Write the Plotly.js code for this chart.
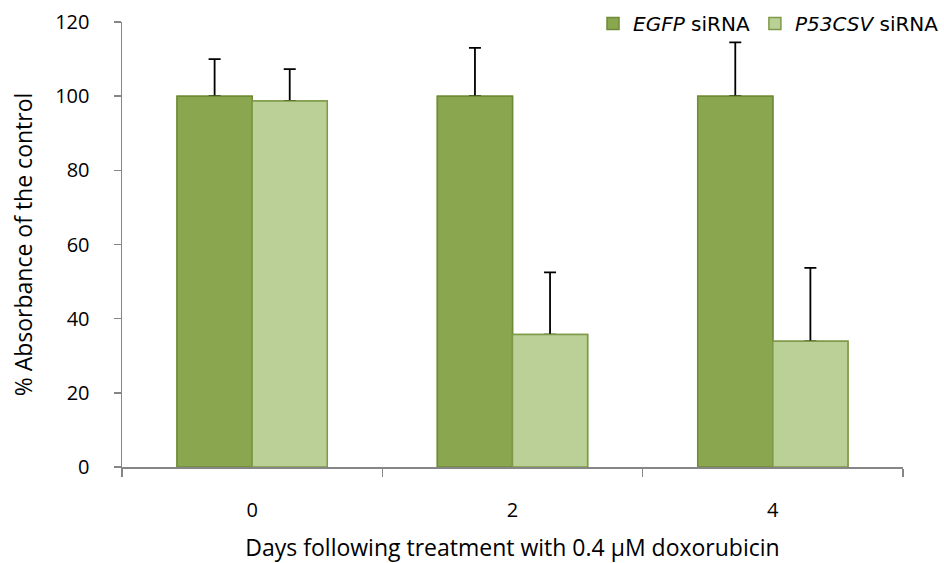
<!DOCTYPE html>
<html>
<head>
<meta charset="utf-8">
<script src="https://cdn.plot.ly/plotly-3.0.1.min.js"></script>
<style>html,body{margin:0;padding:0;background:#fff;}#chart{width:944px;height:563px;}</style>
</head>
<body>
<div id="chart"></div>
<script>
const days = ['0', '2', '4'];
const egfpValues = [100, 100, 100];
const egfpErrors = [10, 13, 14.5];
const p53Values = [98.7, 35.7, 33.9];
const p53Errors = [8.6, 16.8, 19.8];
const seriesNames = ['<i>EGFP</i> siRNA', '<i>P53CSV</i> siRNA'];
const yTicks = [0, 20, 40, 60, 80, 100, 120];

const egfpStyle = {color: '#8aa64f', line: {color: '#6e8c38', width: 1.5}};
const p53Style = {color: '#bad097', line: {color: '#7e9a48', width: 1.5}};

const errStyle = (arr) => ({type: 'data', array: arr, symmetric: false, arrayminus: arr.map(() => 0),
                            color: '#000', thickness: 1.8, width: 6});

const traces = [
  {type: 'bar', x: days, y: egfpValues, name: seriesNames[0], offsetgroup: 'a',
   error_y: errStyle(egfpErrors), marker: egfpStyle},
  {type: 'bar', x: days, y: p53Values, name: seriesNames[1], offsetgroup: 'b',
   error_y: errStyle(p53Errors), marker: p53Style},
  // same bars drawn again on top, so the error bar's base cap at the bar top is hidden
  {type: 'bar', x: days, y: egfpValues, name: seriesNames[0], offsetgroup: 'a',
   showlegend: false, hoverinfo: 'skip', marker: egfpStyle},
  {type: 'bar', x: days, y: p53Values, name: seriesNames[1], offsetgroup: 'b',
   showlegend: false, hoverinfo: 'skip', marker: p53Style}
];

const layout = {
  width: 944, height: 563,
  margin: {l: 122, r: 41, t: 22, b: 96, autoexpand: false},
  paper_bgcolor: '#fff', plot_bgcolor: '#fff',
  font: {family: 'Open Sans, sans-serif', size: 20, color: '#000'},
  barmode: 'group', bargap: 0.423, bargroupgap: 0,
  showlegend: true,
  legend: {orientation: 'h', xref: 'container', yref: 'container', x: 1, xanchor: 'right', y: 0.993, yanchor: 'top',
           font: {family: 'DejaVu Sans, sans-serif', size: 20}, traceorder: 'normal', itemwidth: 30,
           bgcolor: 'rgba(0,0,0,0)'},
  xaxis: {type: 'category', showline: true, linecolor: '#868686', linewidth: 1.5,
          ticks: 'outside', tickson: 'boundaries', ticklen: 8, tickcolor: '#868686', tickwidth: 1.5,
          ticklabelstandoff: 24, tickfont: {size: 20},
          title: {text: 'Days following treatment with 0.4 μM doxorubicin', standoff: 20, font: {size: 23}},
          showgrid: false, zeroline: false},
  yaxis: {range: [0, 120], tickvals: yTicks, showline: true, linecolor: '#868686', linewidth: 1.5,
          ticks: 'outside', ticklen: 7, tickcolor: '#868686', tickwidth: 1.5,
          ticklabelstandoff: 20, tickfont: {size: 20},
          title: {text: '% Absorbance of the control', standoff: 16, font: {size: 23}},
          showgrid: false, zeroline: false}
};

Plotly.newPlot('chart', traces, layout, {displayModeBar: false, staticPlot: true});
</script>
</body>
</html>
